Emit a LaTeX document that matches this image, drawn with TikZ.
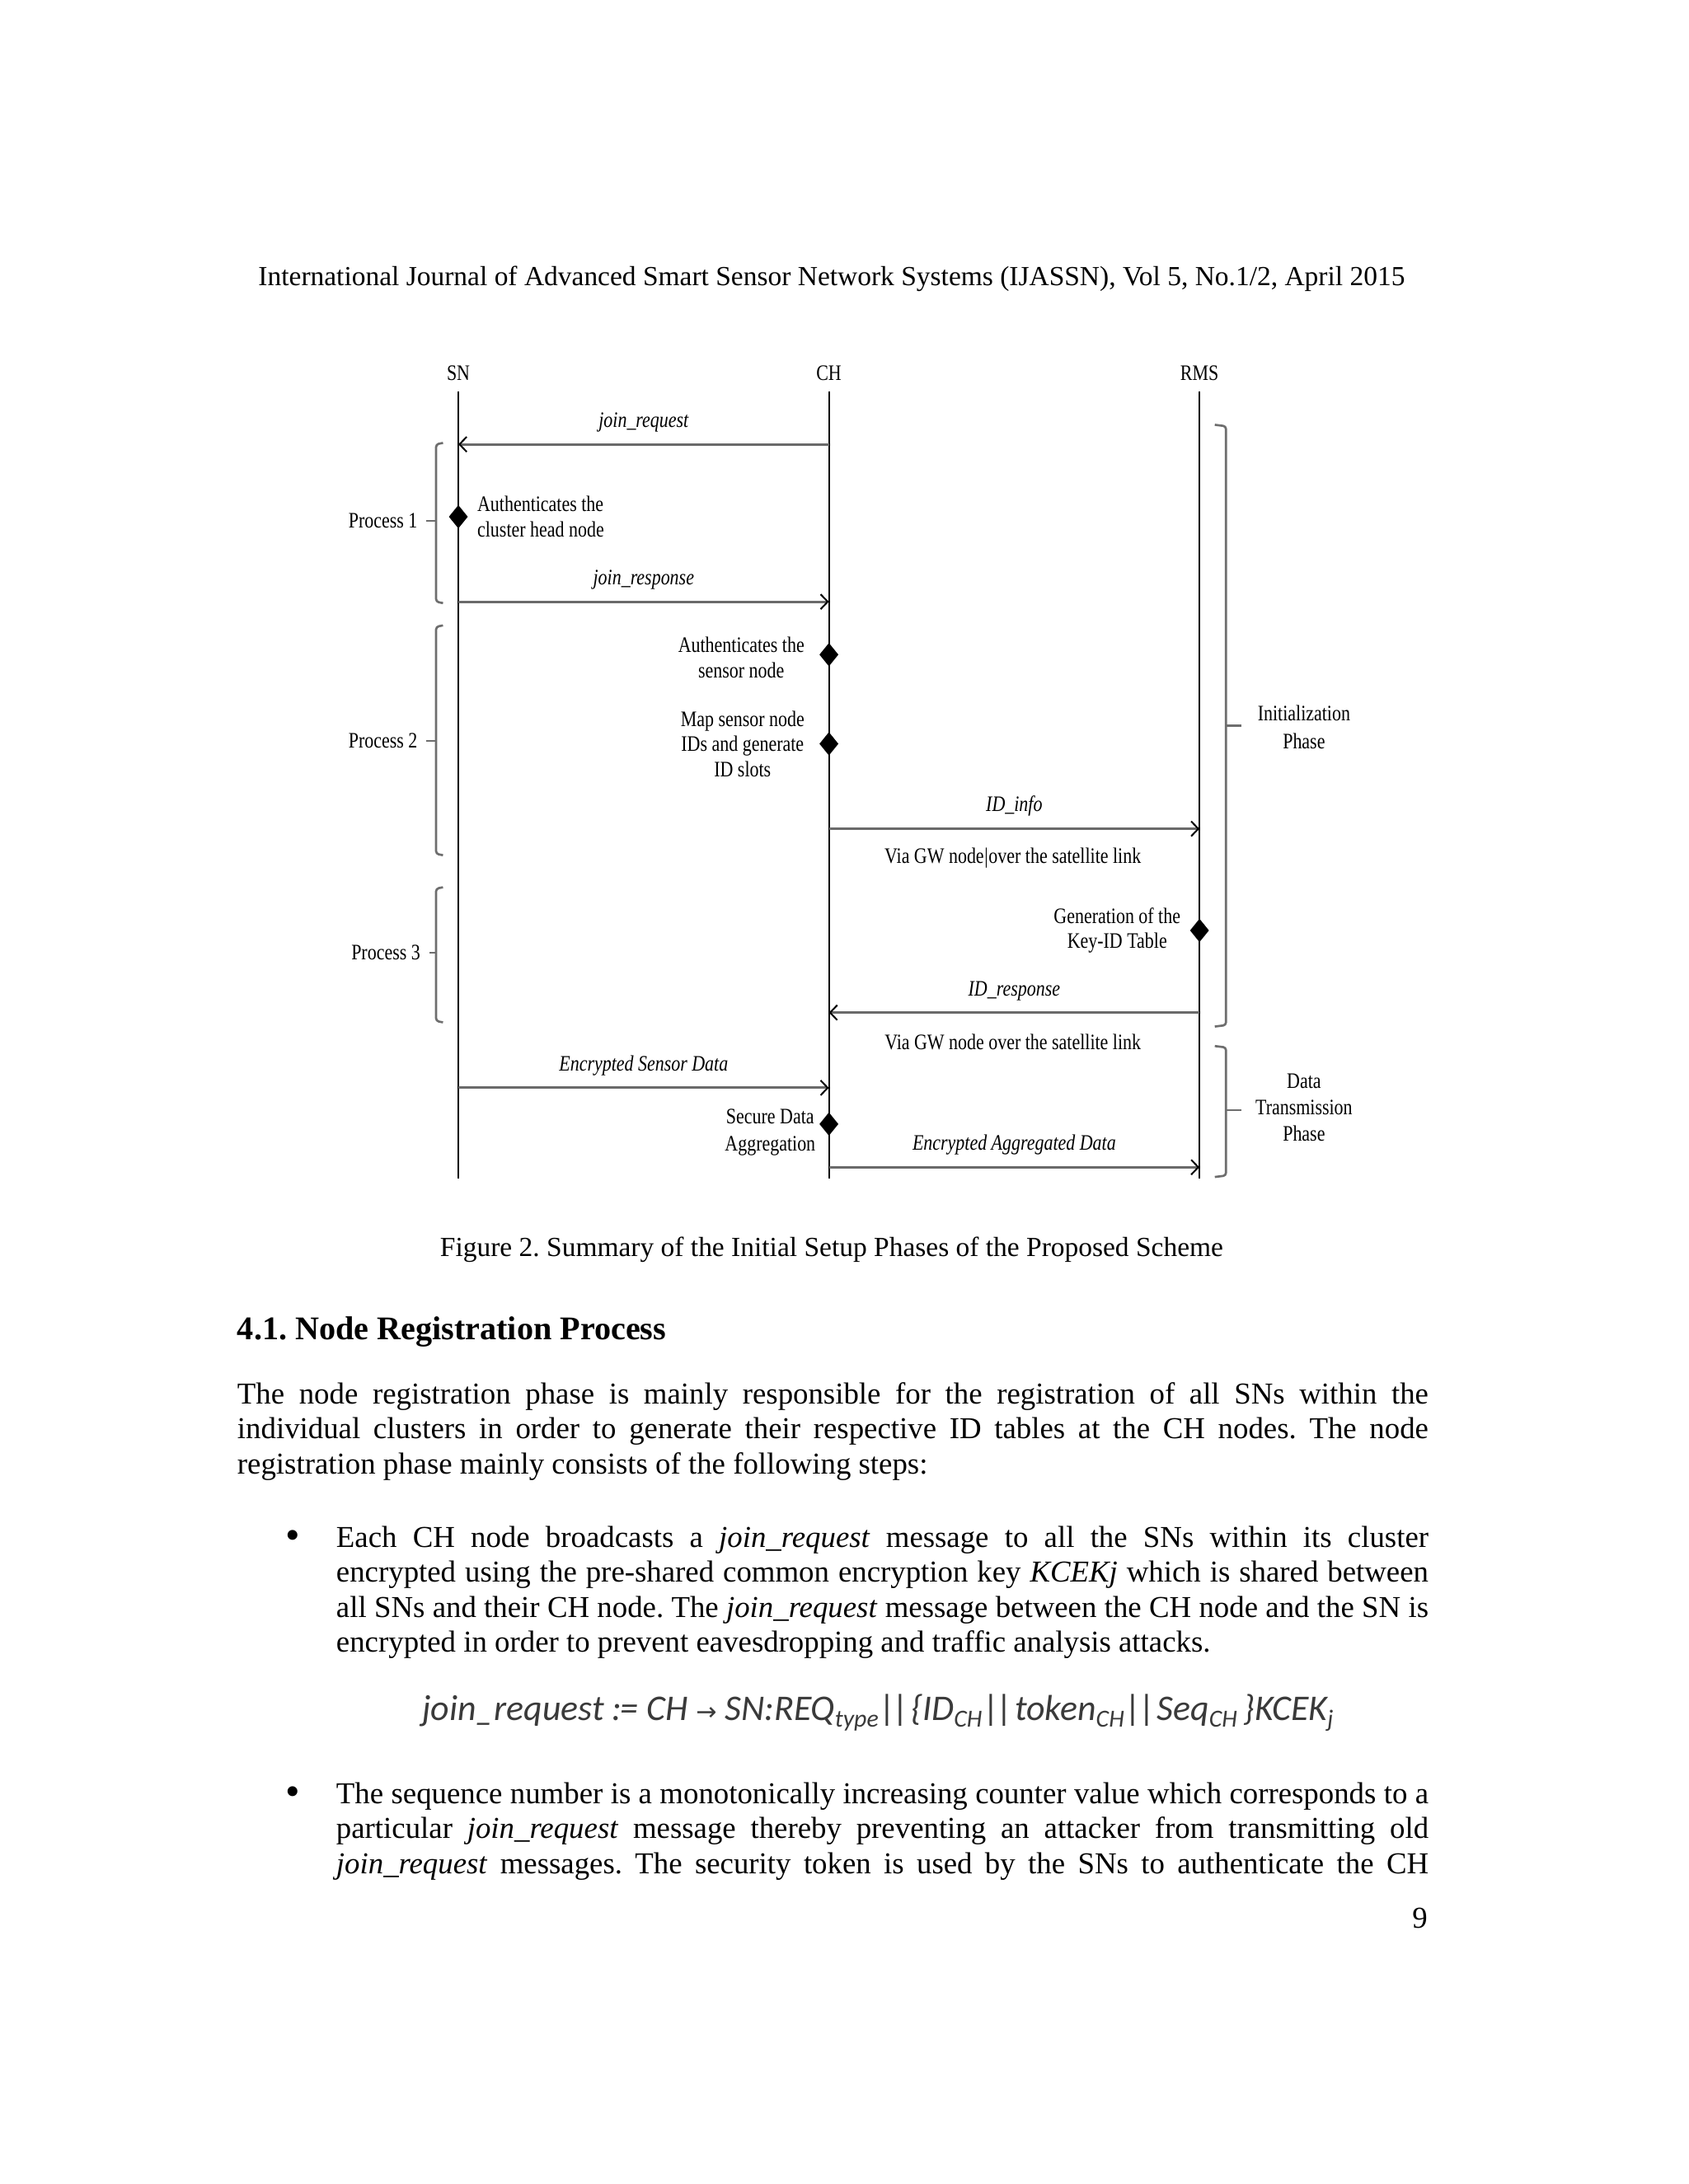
\documentclass[tikz,border=0pt]{standalone}
\usepackage{fontspec}
\setmainfont{Liberation Serif}
\newfontfamily\figfont{Liberation Serif}[FakeStretch=0.82]
\newfontfamily\eqfont{Carlito}
\newfontfamily\arrowfont{DejaVu Sans}
\usepackage{tikz}
\usetikzlibrary{
    arrows.meta,
    shapes.geometric,
    positioning
}
\frenchspacing
\definecolor{ArrowGray}{HTML}{6A6A6A}
\definecolor{BraceGray}{HTML}{6E6E6E}
\definecolor{EqGray}{HTML}{3A3A3A}
\newcommand{\fsub}[1]{\raisebox{-0.4ex}{\fontsize{8.9}{8.9}\selectfont #1}}
\newcommand{\dbar}{\kern0.6pt|\kern-1.2pt|\kern0.4pt}
\tikzset{
    fig/.style={
        font=\figfont\fontsize{8}{9.1}\selectfont,
        inner sep=0pt,
    },
    life/.style={
        line width=0.6pt,
    },
    msg/.style={
        draw=ArrowGray,
        line width=0.9pt,
        -{Straight Barb[length=2.6pt,width=5.4pt,line width=0.6pt,color=black]},
    },
    msglabel/.style={
        fig,
        font=\figfont\itshape\fontsize{8}{9.1}\selectfont,
        above=4pt,
    },
    act/.style={
        diamond,
        fill=black,
        inner sep=0pt,
        minimum width=7pt,
        minimum height=8.6pt,
    },
    brace/.style={
        draw=BraceGray,
        line width=0.8pt,
        rounded corners=1pt,
    },
    body/.style={
        font=\fontsize{11}{12.62}\selectfont,
        inner sep=0pt,
        anchor=base west,
        align=justify,
    },
    small/.style={
        body,
        font=\fontsize{10}{12}\selectfont,
        anchor=base,
    },
    bulletmark/.style={
        body,
        font=\fontsize{15}{15}\selectfont,
        anchor=base,
    },
}

\begin{document}
\begin{tikzpicture}[x=0.50495pt, y=-0.50495pt]

    \fill[white] (0,0) rectangle (1212,1568);
    \useasboundingbox (0,0) rectangle (1212,1568);

    \node[small] (header) at (597,205)
        {International Journal of Advanced Smart Sensor Network Systems (IJASSN), Vol 5, No.1/2, April 2015};

    % lifelines
    \node[fig] (SN) at (329,268) {SN};
    \node[fig] (CH) at (595,268) {CH};
    \node[fig] (RMS) at (861,268) {RMS};

    \coordinate (top) at (0,281);
    \coordinate (bot) at (0,846);
    \draw[life] (SN |- top) -- (SN |- bot);
    \draw[life] (CH |- top) -- (CH |- bot);
    \draw[life] (RMS |- top) -- (RMS |- bot);

    % messages
    \coordinate (m1) at (0,319);
    \coordinate (m2) at (0,432);
    \coordinate (m3) at (0,595);
    \coordinate (m4) at (0,727);
    \coordinate (m5) at (0,781);
    \coordinate (m6) at (0,838);

    \draw[msg] (CH |- m1) -- node[msglabel] (req) {join\_request} (SN |- m1);
    \draw[msg] (SN |- m2) -- node[msglabel] (resp) {join\_response} (CH |- m2);
    \draw[msg] (CH |- m3) -- node[msglabel] (info) {ID\_info} (RMS |- m3);
    \draw[msg] (RMS |- m4) -- node[msglabel] (idresp) {ID\_response} (CH |- m4);
    \draw[msg] (SN |- m5) -- node[msglabel] (esd) {Encrypted Sensor Data} (CH |- m5);
    \draw[msg] (CH |- m6) -- node[msglabel] (ead) {Encrypted Aggregated Data} (RMS |- m6);

    \node[fig] (via1) at (727,616) {Via GW node\kern0.2pt\textbar\kern0.2pt over the satellite link};
    \node[fig] (via2) at (727,748) {Via GW node over the satellite link};

    % activities
    \node[act] (a1) at (329,371) {};
    \node[act] (a2) at (595,470) {};
    \node[act] (a3) at (595,534) {};
    \node[act] (a4) at (861,668) {};
    \node[act] (a5) at (595,807) {};

    \node[fig, align=left, right=3pt of a1] (t1) {Authenticates the\\cluster head node};
    \node[fig, align=center, left=5pt of a2, yshift=-1pt] (t2) {Authenticates the\\sensor node};
    \node[fig, align=center, left=5pt of a3] (t3) {Map sensor node\\IDs and generate\\ID slots};
    \node[fig, align=center, left=3pt of a4] (t4) {Generation of the\\Key-ID Table};
    \node[fig, align=center, left=1pt of a5, yshift=-3pt, font=\figfont\fontsize{8}{10}\selectfont] (t5) {Secure Data\\Aggregation};

    % process brackets
    \coordinate (b1) at (306,374);
    \coordinate (b2) at (306,532);
    \coordinate (b3) at (308,684);
    \node[fig, left=3pt of b1] (P1) {Process 1};
    \node[fig, left=3pt of b2] (P2) {Process 2};
    \node[fig, left=3pt of b3] (P3) {Process 3};
    \draw[brace] (318,318) -- (313,319) -- (313,432) -- (318,433);
    \draw[brace] (313,374) -- (b1);
    \draw[brace] (318,449) -- (313,450) -- (313,613) -- (318,614);
    \draw[brace] (313,532) -- (b2);
    \draw[brace] (318,637) -- (313,638) -- (313,733) -- (318,734);
    \draw[brace] (313,684) -- (b3);

    % phase brackets
    \coordinate (c1) at (891,521);
    \coordinate (c2) at (891,797);
    \draw[brace] (872,305) -- (880,306) -- (880,736) -- (872,737);
    \draw[brace] (880,521) -- (c1);
    \draw[brace] (872,751) -- (880,752) -- (880,844) -- (872,845);
    \draw[brace] (880,797) -- (c2);
    \node[fig, align=center, font=\figfont\fontsize{8}{10}\selectfont] (init) at (936,522) {Initialization\\Phase};
    \node[fig, align=center, font=\figfont\fontsize{8}{9.6}\selectfont] (trans) at (936,795) {Data\\Transmission\\Phase};

    \node[small] (caption) at (597,902)
        {Figure 2. Summary of the Initial Setup Phases of the Proposed Scheme};

    \node[body, font=\bfseries\fontsize{12}{14}\selectfont] (sec) at (170,962)
        {4.1. Node Registration Process};

    \node[body, text width=431.7pt] (para) at (170,1008)
        {The node registration phase is mainly responsible for the registration of all SNs within the\linebreak
        individual clusters in order to generate their respective ID tables at the CH nodes. The node\linebreak
        registration phase mainly consists of the following steps:};

    \node[bulletmark] (dot1) at (210,1112) {\textbullet};
    \node[body, text width=395.9pt] (item1) at (241,1111)
        {Each CH node broadcasts a \textit{join\_request} message to all the SNs within its cluster\linebreak
        encrypted using the pre-shared common encryption key \textit{KCEKj} which is shared between\linebreak
        all SNs and their CH node. The \textit{join\_request} message between the CH node and the SN is\linebreak
        encrypted in order to prevent eavesdropping and traffic analysis attacks.};

    \node[body, anchor=base, text=EqGray, font=\eqfont\itshape\fontsize{13.1}{15}\selectfont] (eq) at (630,1235)
        {join\_request :\kern-0.6pt= CH {\arrowfont\fontsize{9}{9}\selectfont →} SN:REQ\fsub{type}\dbar\{ID\fsub{CH}\dbar token\fsub{CH}\dbar Seq\fsub{CH}\,\}KCEK\fsub{j}};

    \node[bulletmark] (dot2) at (210,1296) {\textbullet};
    \node[body, text width=395.9pt] (item2) at (241,1295)
        {The sequence number is a monotonically increasing counter value which corresponds to a\linebreak
        particular \textit{join\_request} message thereby preventing an attacker from transmitting old\linebreak
        \textit{join\_request} messages. The security token is used by the SNs to authenticate the CH\parfillskip=0pt\par};

    \node[body, anchor=base east] (pagenum) at (1025,1384) {9};

\end{tikzpicture}
\end{document}
